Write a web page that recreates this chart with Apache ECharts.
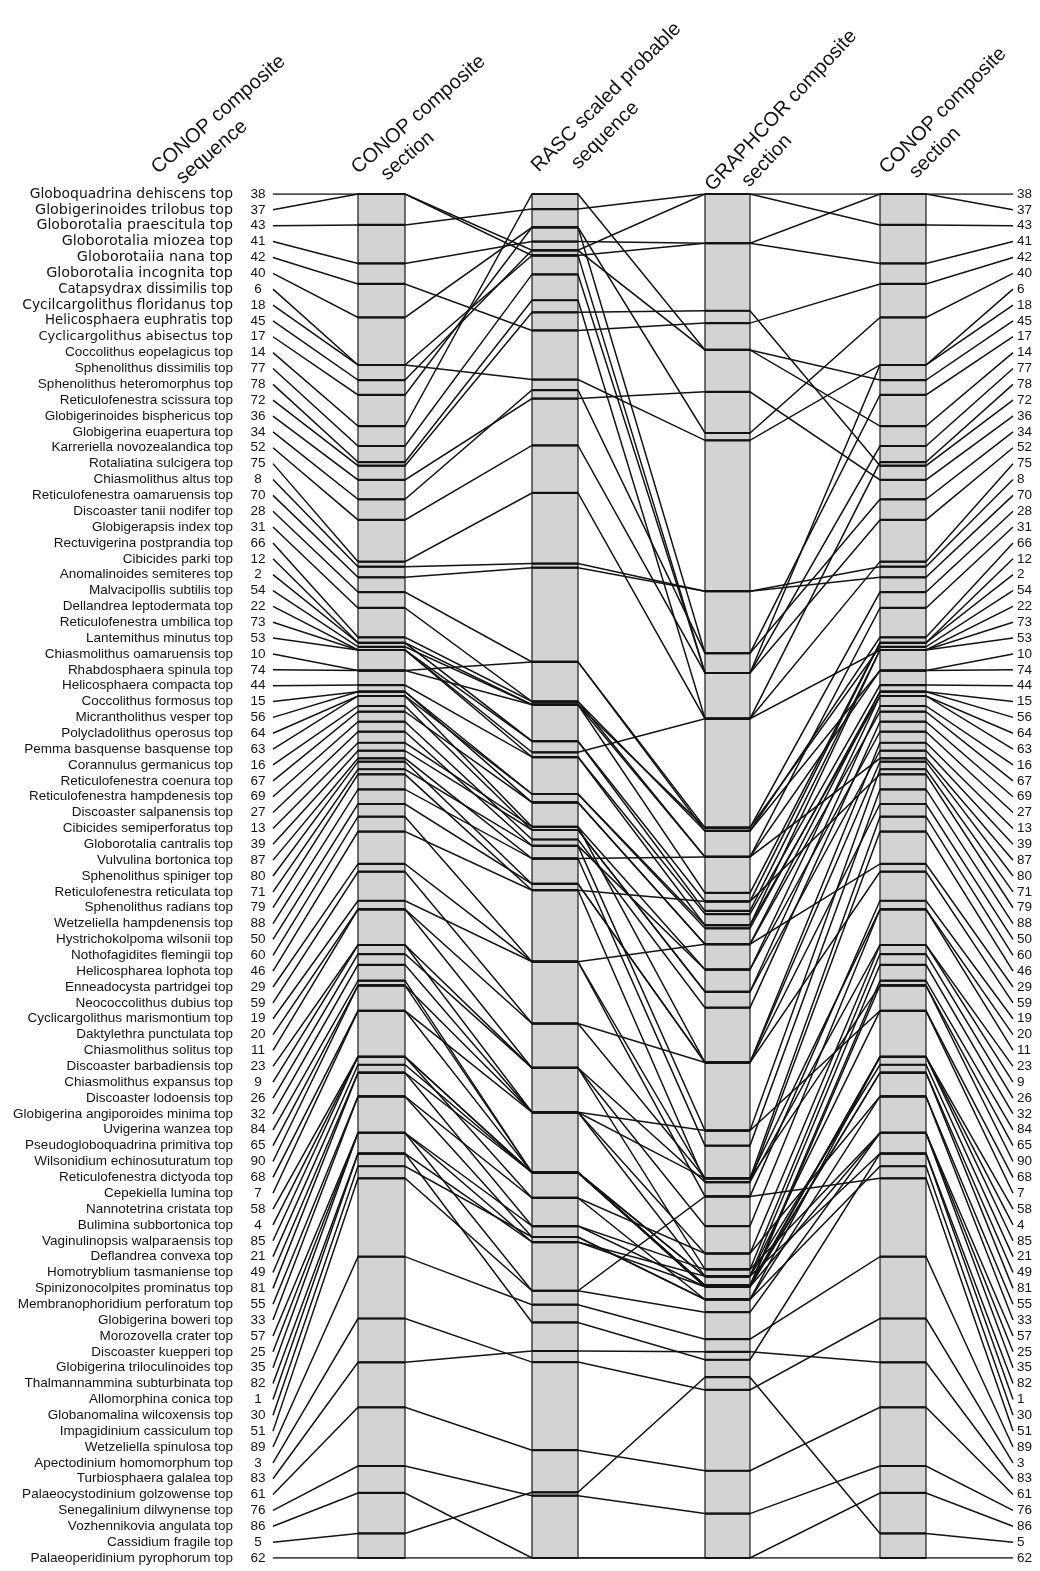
<!DOCTYPE html>
<html>
<head>
<meta charset="utf-8">
<script src="https://cdn.jsdelivr.net/npm/echarts@6/dist/echarts.min.js"></script>
<style>
  html, body { margin: 0; padding: 0; background: #ffffff; }
  #chart { width: 1040px; height: 1571px; }
</style>
</head>
<body>
<div id="chart"></div>
<script>
// Event names in CONOP composite-sequence order (top to bottom)
const eventNames = [
  "Globoquadrina dehiscens top", "Globigerinoides trilobus top", "Globorotalia praescitula top",
  "Globorotalia miozea top", "Globorotaiia nana top", "Globorotalia incognita top",
  "Catapsydrax dissimilis top", "Cycilcargolithus floridanus top", "Helicosphaera euphratis top",
  "Cyclicargolithus abisectus top", "Coccolithus eopelagicus top", "Sphenolithus dissimilis top",
  "Sphenolithus heteromorphus top", "Reticulofenestra scissura top", "Globigerinoides bisphericus top",
  "Globigerina euapertura top", "Karreriella novozealandica top", "Rotaliatina sulcigera top",
  "Chiasmolithus altus top", "Reticulofenestra oamaruensis top", "Discoaster tanii nodifer top",
  "Globigerapsis index top", "Rectuvigerina postprandia top", "Cibicides parki top",
  "Anomalinoides semiteres top", "Malvacipollis subtilis top", "Dellandrea leptodermata top",
  "Reticulofenestra umbilica top", "Lantemithus minutus top", "Chiasmolithus oamaruensis top",
  "Rhabdosphaera spinula top", "Helicosphaera compacta top", "Coccolithus formosus top",
  "Micrantholithus vesper top", "Polycladolithus operosus top", "Pemma basquense basquense top",
  "Corannulus germanicus top", "Reticulofenestra coenura top", "Reticulofenestra hampdenesis top",
  "Discoaster salpanensis top", "Cibicides semiperforatus top", "Globorotalia cantralis top",
  "Vulvulina bortonica top", "Sphenolithus spiniger top", "Reticulofenestra reticulata top",
  "Sphenolithus radians top", "Wetzeliella hampdenensis top", "Hystrichokolpoma wilsonii top",
  "Nothofagidites flemingii top", "Helicospharea lophota top", "Enneadocysta partridgei top",
  "Neococcolithus dubius top", "Cyclicargolithus marismontium top", "Daktylethra punctulata top",
  "Chiasmolithus solitus top", "Discoaster barbadiensis top", "Chiasmolithus expansus top",
  "Discoaster lodoensis top", "Globigerina angiporoides minima top", "Uvigerina wanzea top",
  "Pseudogloboquadrina primitiva top", "Wilsonidium echinosuturatum top", "Reticulofenestra dictyoda top",
  "Cepekiella lumina top", "Nannotetrina cristata top", "Bulimina subbortonica top",
  "Vaginulinopsis walparaensis top", "Deflandrea convexa top", "Homotryblium tasmaniense top",
  "Spinizonocolpites prominatus top", "Membranophoridium perforatum top", "Globigerina boweri top",
  "Morozovella crater top", "Discoaster kuepperi top", "Globigerina triloculinoides top",
  "Thalmannammina subturbinata top", "Allomorphina conica top", "Globanomalina wilcoxensis top",
  "Impagidinium cassiculum top", "Wetzeliella spinulosa top", "Apectodinium homomorphum top",
  "Turbiosphaera galalea top", "Palaeocystodinium golzowense top", "Senegalinium dilwynense top",
  "Vozhennikovia angulata top", "Cassidium fragile top", "Palaeoperidinium pyrophorum top"
];

// Event numbers, same order
const eventIds = [
  38, 37, 43, 41, 42, 40, 6, 18, 45, 17, 14, 77, 78, 72, 36, 34, 52, 75, 8, 70,
  28, 31, 66, 12, 2, 54, 22, 73, 53, 10, 74, 44, 15, 56, 64, 63, 16, 67, 69, 27,
  13, 39, 87, 80, 71, 79, 88, 50, 60, 46, 29, 59, 19, 20, 11, 23, 9, 26, 32, 84,
  65, 90, 68, 7, 58, 4, 85, 21, 49, 81, 55, 33, 57, 25, 35, 82, 1, 30, 51, 89,
  3, 83, 61, 76, 86, 5, 62
];

// Scaled positions (0 = top of column, 86 = base), one value per event
const conopSection = [
  0, 0, 1.95, 4.38, 5.67, 7.78, 10.78, 10.78, 11.73, 12.67,
  14.63, 15.89, 16.9, 17.13, 18.03, 19.25, 20.55, 23.18, 23.5, 24.17,
  25.1, 26.1, 27.95, 28.3, 28.3, 28.55, 28.75, 28.75, 28.75, 30.05,
  30.05, 30.96, 31.38, 31.38, 31.65, 31.65, 32.28, 32.64, 33.27, 33.9,
  34.6, 35.1, 35.58, 35.79, 36.27, 36.59, 37.54, 38.46, 39.26, 40.2,
  42.24, 42.73, 44.56, 45.1, 45.1, 47.35, 47.35, 47.92, 48.6, 49.6,
  49.9, 49.9, 51.5, 51.5, 54.4, 54.4, 54.4, 54.9, 55.4, 55.4,
  56.9, 56.9, 59.2, 59.2, 59.2, 60.5, 60.5, 61.3, 62.06, 67.0,
  70.9, 73.66, 76.5, 80.2, 81.9, 84.45, 86
];

const rascSequence = [
  3.55, 3.87, 0.95, 3.0, 8.6, 2.1, 11.7, 3.87, 3.55, 2.1,
  0, 5.07, 6.7, 7.46, 12.9, 12.36, 15.85, 18.85, 23.3, 23.56,
  29.5, 32.0, 32.0, 32.2, 34.5, 32.2, 35.2, 34.5, 35.5, 32.2,
  29.5, 35.5, 37.83, 38.36, 39.9, 37.83, 40.1, 38.36, 40.7, 41.1,
  39.9, 40.1, 41.9, 43.5, 41.1, 43.9, 41.9, 43.5, 48.4, 43.9,
  48.4, 52.3, 48.4, 52.3, 55.1, 55.1, 57.9, 55.1, 57.9, 61.7,
  57.9, 61.7, 61.7, 57.9, 61.7, 61.7, 63.3, 61.7, 61.7, 65.07,
  63.3, 65.76, 66.08, 65.07, 69.15, 66.08, 71.15, 65.76, 69.15, 70.03,
  73.65, 72.95, 79.2, 82.07, 86, 81.86, 86
];

const graphcorSection = [
  0, 3.1, 0, 3.1, 8.14, 15.07, 15.53, 30.2, 9.83, 28.95,
  9.83, 30.2, 33.08, 7.36, 12.47, 28.95, 30.2, 33.08, 25.04, 25.04,
  39.95, 41.8, 40.16, 44.07, 44.6, 39.95, 33.08, 45.2, 46.1, 41.8,
  40.16, 45.4, 46.3, 47.3, 48.9, 46.1, 50.3, 47.3, 51.3, 48.9,
  54.76, 50.3, 41.8, 54.76, 59.05, 44.6, 60.0, 54.76, 62.06, 62.3,
  47.3, 54.76, 63.2, 62.06, 65.07, 62.3, 66.8, 67.8, 68.24, 68.8,
  62.06, 68.9, 68.24, 59.05, 68.8, 68.9, 69.7, 68.24, 68.8, 68.9,
  66.8, 69.7, 68.9, 67.8, 70.5, 68.24, 73.5, 69.7, 63.2, 72.2,
  75.4, 73.0, 80.5, 83.2, 86, 74.6, 86
];

const columnTitles = [
  ["CONOP composite", "sequence"],
  ["CONOP composite", "section"],
  ["RASC scaled probable", "sequence"],
  ["GRAPHCOR composite", "section"],
  ["CONOP composite", "section"]
];

// ---- layout & style ----
const ROW_MAX = eventNames.length - 1;
const LEFT_X = 273, RIGHT_X = 1013;
const BARS = [[358, 405], [532, 578], [705, 750], [880, 926]];
const TITLE_POS = [
  { x: 161, y: 178, angle: 41, indent: 12, gap: 24 },
  { x: 361, y: 178, angle: 41, indent: 18, gap: 24 },
  { x: 542, y: 176, angle: 45, indent: 30, gap: 26 },
  { x: 716, y: 195, angle: 47, indent: 28, gap: 24 },
  { x: 890, y: 178, angle: 45, indent: 18, gap: 24 }
];
const TITLE_FONT = '20px "Liberation Sans", Arial, sans-serif';
const FONT = '"Liberation Sans", Arial, sans-serif';
const WIDE_FONT = '"DejaVu Sans", Verdana, sans-serif';
const INK = '#131313';
const LABEL_SIZE = 13.5;
// the uppermost (Neogene) event names are set in a wider type
const WIDE_LABEL_SIZES = [13.9, 14.3, 14.15, 14.3, 14.4, 14.4, 13.3, 13.9, 13.3, 13.0];

const barValues = [conopSection, rascSequence, graphcorSection, conopSection];

const links = eventIds.map((id, i) => {
  const coords = [[LEFT_X, i]];
  barValues.forEach((vals, b) => {
    coords.push([BARS[b][0], vals[i]], [BARS[b][1], vals[i]]);
  });
  coords.push([RIGHT_X, i]);
  return { name: String(id), coords };
});

const tickData = [];
barValues.forEach((vals, b) => {
  vals.forEach(v => tickData.push([BARS[b][0], BARS[b][1], v]));
});

const labelRich = {
  n: { fontFamily: FONT, fontSize: LABEL_SIZE, color: INK, padding: [0, 15, 0, 0] },
  v: { fontFamily: FONT, fontSize: LABEL_SIZE, color: INK, width: 20, align: 'left' }
};
WIDE_LABEL_SIZES.forEach((s, k) => {
  labelRich['w' + k] = { fontFamily: WIDE_FONT, fontSize: s, color: INK, padding: [0, 15, 0, 0] };
});

const chart = echarts.init(document.getElementById('chart'), null, { renderer: 'canvas' });

chart.setOption({
  animation: false,
  backgroundColor: '#ffffff',
  grid: { left: LEFT_X, right: 1040 - RIGHT_X, top: 194, bottom: 13, containLabel: false },
  xAxis: { type: 'value', min: LEFT_X, max: RIGHT_X, show: false },
  yAxis: [
    { type: 'value', min: 0, max: ROW_MAX, inverse: true, show: false },
    {
      type: 'category', data: eventNames, inverse: true, boundaryGap: false, position: 'left',
      axisLine: { show: false }, axisTick: { show: false }, splitLine: { show: false },
      axisLabel: {
        interval: 0, margin: 5, hideOverlap: false,
        formatter: (val, idx) => {
          const key = idx < WIDE_LABEL_SIZES.length ? 'w' + idx : 'n';
          return '{' + key + '|' + val + '}{v|' + eventIds[idx] + '}';
        },
        rich: labelRich
      }
    },
    {
      type: 'category', data: eventIds.map(String), inverse: true, boundaryGap: false, position: 'right',
      axisLine: { show: false }, axisTick: { show: false }, splitLine: { show: false },
      axisLabel: { interval: 0, margin: 4, hideOverlap: false, fontFamily: FONT, fontSize: LABEL_SIZE, color: INK }
    }
  ],
  series: [
    {
      type: 'custom', name: 'columns', coordinateSystem: 'cartesian2d', silent: true, z: 1,
      data: BARS.map(b => [b[0], b[1]]),
      encode: { x: [0, 1] },
      renderItem: (params, api) => {
        const p0 = api.coord([api.value(0), 0]);
        const p1 = api.coord([api.value(1), ROW_MAX]);
        return {
          type: 'rect',
          shape: { x: p0[0], y: p0[1], width: p1[0] - p0[0], height: p1[1] - p0[1] },
          style: { fill: '#d3d3d3', stroke: '#1a1a1a', lineWidth: 1.2 }
        };
      }
    },
    {
      type: 'lines', name: 'correlation', coordinateSystem: 'cartesian2d', polyline: true, silent: true, z: 2,
      data: links,
      lineStyle: { color: INK, width: 1.5, opacity: 1 }
    },
    {
      type: 'custom', name: 'levels', coordinateSystem: 'cartesian2d', silent: true, z: 3,
      data: tickData,
      encode: { x: [0, 1], y: 2 },
      renderItem: (params, api) => {
        const a = api.coord([api.value(0), api.value(2)]);
        const b = api.coord([api.value(1), api.value(2)]);
        return {
          type: 'line',
          shape: { x1: a[0], y1: a[1], x2: b[0], y2: b[1] },
          style: { stroke: INK, lineWidth: 2.2 }
        };
      }
    }
  ],
  graphic: columnTitles.map((lines, k) => ({
    type: 'group',
    x: TITLE_POS[k].x, y: TITLE_POS[k].y, rotation: TITLE_POS[k].angle * Math.PI / 180,
    children: [
      { type: 'text', x: 0, y: 0, style: { text: lines[0], fill: INK, font: TITLE_FONT, verticalAlign: 'bottom', align: 'left' } },
      { type: 'text', x: TITLE_POS[k].indent, y: TITLE_POS[k].gap, style: { text: lines[1], fill: INK, font: TITLE_FONT, verticalAlign: 'bottom', align: 'left' } }
    ]
  }))
});
</script>
</body>
</html>
